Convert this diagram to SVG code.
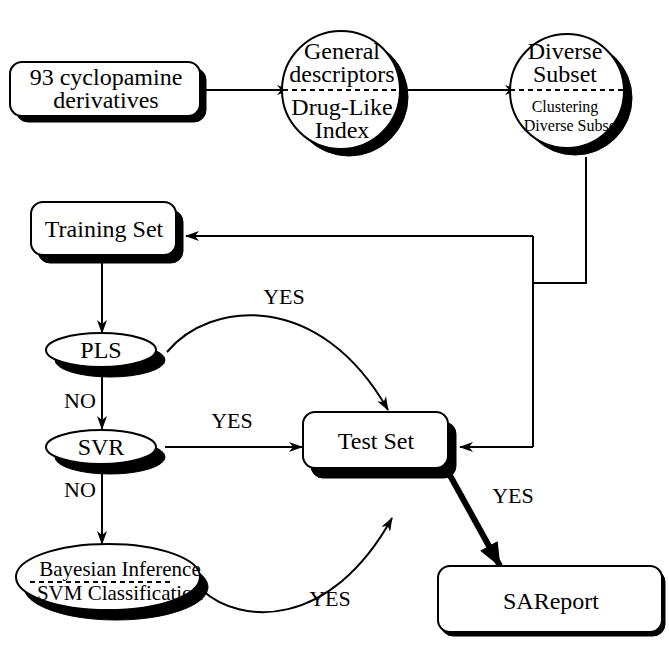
<svg xmlns="http://www.w3.org/2000/svg" width="669" height="648" viewBox="0 0 669 648" font-family="'Liberation Serif', 'DejaVu Serif', serif">
<style>
text{font-family:'Liberation Serif','DejaVu Serif',serif;fill:#000;text-anchor:middle}
.t24{font-size:24px}
.t22{font-size:22px}
.t21{font-size:21px}
.t16{font-size:16px}
.box{fill:#fff;stroke:#000;stroke-width:2}
.sh{fill:#000;stroke:#000;stroke-width:1}
.ln{fill:none;stroke:#000;stroke-width:2}
.dash{fill:none;stroke:#000;stroke-width:2;stroke-dasharray:5 4}
</style>
<defs>
<marker id="ah" viewBox="0 0 14 10" refX="13" refY="5" markerWidth="14" markerHeight="10" markerUnits="userSpaceOnUse" orient="auto">
<path d="M0,0 L14,5 L0,10 L4,5 Z" fill="#000"/>
</marker>
<marker id="ahb" viewBox="0 0 24 20" refX="23" refY="10" markerWidth="24" markerHeight="20" markerUnits="userSpaceOnUse" orient="auto">
<path d="M0,0 L24,10 L0,20 Z" fill="#000"/>
</marker>
<mask id="mC"><rect x="0" y="0" width="669" height="648" fill="#fff"/><circle cx="567" cy="91" r="57" fill="#000"/></mask>
<mask id="mBay"><rect x="0" y="0" width="669" height="648" fill="#fff"/><ellipse cx="108" cy="577" rx="92" ry="33" fill="#000"/></mask>
</defs>

<g id="connectors">
<line class="ln" x1="200" y1="90" x2="290" y2="90" marker-end="url(#ah)"/>
<line class="ln" x1="400" y1="90" x2="518" y2="90" marker-end="url(#ah)"/>
<path class="ln" d="M586,157 V283 H533"/>
<path class="ln" d="M533,236 V447"/>
<line class="ln" x1="533" y1="236" x2="186" y2="236" marker-end="url(#ah)"/>
<line class="ln" x1="533" y1="447" x2="460" y2="447" marker-end="url(#ah)"/>
<line class="ln" x1="102" y1="262" x2="102" y2="333" marker-end="url(#ah)"/>
<line class="ln" x1="102" y1="377" x2="102" y2="429" marker-end="url(#ah)"/>
<line class="ln" x1="102" y1="474" x2="102" y2="544" marker-end="url(#ah)"/>
<line class="ln" x1="165" y1="447" x2="302" y2="447" marker-end="url(#ah)"/>
<path class="ln" d="M167,352 C210,300 320,290 388,410" marker-end="url(#ah)"/>
<path class="ln" d="M202,590 C240,625 330,630 392,518" marker-end="url(#ah)"/>
<line x1="447" y1="470" x2="500" y2="566" stroke="#000" stroke-width="6" marker-end="url(#ahb)"/>
<text class="t22" x="284" y="304">YES</text>
<text class="t22" x="232" y="428">YES</text>
<text class="t22" x="80" y="408">NO</text>
<text class="t22" x="80" y="497">NO</text>
<text class="t22" x="513" y="503">YES</text>
<text class="t22" x="330" y="606">YES</text>
</g>

<g id="n-derivatives">
<rect class="sh" x="16" y="68" width="190" height="54" rx="12"/>
<rect class="box" x="10" y="62" width="190" height="54" rx="12"/>
<text class="t24" x="106" y="85">93 cyclopamine</text>
<text class="t24" x="106" y="108">derivatives</text>
</g>

<g id="n-descriptors">
<circle class="sh" cx="349" cy="97" r="59"/>
<circle class="box" cx="341" cy="90" r="59"/>
<line class="dash" x1="283" y1="90" x2="400" y2="90"/>
<text class="t24" x="342" y="59">General</text>
<text class="t24" x="342" y="82">descriptors</text>
<text class="t24" x="342" y="115">Drug-Like</text>
<text class="t24" x="342" y="138">Index</text>
</g>

<g id="n-subset">
<circle fill="#fff" cx="567" cy="91" r="57"/>
<line class="dash" x1="510" y1="90" x2="624" y2="90"/>
<text class="t24" x="565" y="59">Diverse</text>
<text class="t24" x="565" y="82">Subset</text>
<text class="t16" x="565" y="112">Clustering</text>
<text class="t16" x="572" y="131">Diverse Subset</text>
<circle class="sh" cx="575" cy="98" r="57" mask="url(#mC)"/>
<circle class="ln" cx="567" cy="91" r="57"/>
</g>

<g id="n-training">
<rect class="sh" x="38" y="210" width="145" height="53" rx="12"/>
<rect class="box" x="31" y="202" width="145" height="53" rx="12"/>
<text class="t24" x="104" y="237">Training Set</text>
</g>

<g id="n-pls">
<ellipse class="sh" cx="110" cy="360" rx="55" ry="17"/>
<ellipse class="box" cx="101" cy="350" rx="55" ry="17"/>
<text class="t24" x="101" y="358">PLS</text>
</g>

<g id="n-svr">
<ellipse class="sh" cx="110" cy="457" rx="55" ry="17"/>
<ellipse class="box" cx="101" cy="447" rx="55" ry="17"/>
<text class="t24" x="101" y="455">SVR</text>
</g>

<g id="n-bayes">
<ellipse fill="#fff" cx="108" cy="577" rx="92" ry="33"/>
<text class="t21" x="120" y="576">Bayesian Inference</text>
<line class="dash" x1="30" y1="582" x2="172" y2="582"/>
<text class="t21" x="120" y="600">SVM Classification</text>
<ellipse class="sh" cx="116" cy="587" rx="92" ry="33" mask="url(#mBay)"/>
<ellipse class="ln" cx="108" cy="577" rx="92" ry="33"/>
</g>

<g id="n-test">
<rect class="sh" x="311" y="422" width="145" height="56" rx="12"/>
<rect class="box" x="303" y="412" width="145" height="56" rx="12"/>
<text class="t24" x="376" y="449">Test Set</text>
</g>

<g id="n-sareport">
<rect class="sh" x="441" y="570" width="224" height="66" rx="12"/>
<rect class="box" x="438" y="566" width="224" height="66" rx="12"/>
<text class="t24" x="551" y="609">SAReport</text>
</g>
</svg>
